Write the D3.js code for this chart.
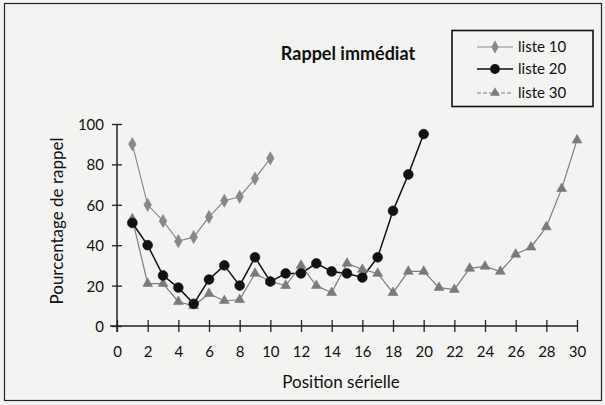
<!DOCTYPE html>
<html><head><meta charset="utf-8">
<script src="https://cdn.jsdelivr.net/npm/d3@7"></script>
<style>
html,body{margin:0;padding:0;background:#f3f3f1;}
svg{display:block;}
text{font-family:Lato,"Open Sans",sans-serif;fill:#111;}
</style></head><body>
<svg id="c" width="605" height="405"></svg>
<script>
const title = "Rappel immédiat";
const xLabel = "Position sérielle";
const yLabel = "Pourcentage de rappel";
const xTicks = [0,2,4,6,8,10,12,14,16,18,20,22,24,26,28,30];
const yTicks = [0,20,40,60,80,100];
const seriesNames = ["liste 10","liste 20","liste 30"];
const liste10 = [90,60,52,42,44,54,62,64,73,83];
const liste20 = [51,40,25,19,11,23,30,20,34,22,26,26,31,27,26,24,34,57,75,95];
const liste30 = [53,21,21,12,10,16,12.5,13,26,22,20,30,20,16.5,31,28,26,16.5,27,27,19,18,28.5,29.5,27,35.5,39,49,68,92];

const svg = d3.select("#c");
const x = d3.scaleLinear().domain([0,30]).range([117,577]);
const y = d3.scaleLinear().domain([0,100]).range([326,124]);

// frame
svg.append("rect").attr("x",4.5).attr("y",3.5).attr("width",597).attr("height",397)
  .attr("fill","none").attr("stroke","#222").attr("stroke-width",1.2);

// axes
const gx = svg.append("g").attr("transform",`translate(0,${y(0)})`)
  .call(d3.axisBottom(x).tickValues(xTicks).tickSize(0).tickPadding(0));
gx.select(".domain").remove();
gx.selectAll(".tick line").attr("y1",-6).attr("y2",6).attr("stroke","#222").attr("stroke-width",1.3);
gx.selectAll(".tick text").attr("y",31).attr("dy",0).attr("font-size",15);
svg.append("line").attr("x1",x(0)-7).attr("x2",x(30)).attr("y1",y(0)).attr("y2",y(0))
  .attr("stroke","#222").attr("stroke-width",1.5);

const gy = svg.append("g").attr("transform",`translate(${x(0)},0)`)
  .call(d3.axisLeft(y).tickValues(yTicks).tickSize(0).tickPadding(0));
gy.select(".domain").remove();
gy.selectAll(".tick line").attr("x1",-5).attr("x2",5).attr("stroke","#222").attr("stroke-width",1.3);
gy.selectAll(".tick text").attr("x",-13).attr("dy","0.36em").attr("font-size",15);
svg.append("line").attr("x1",x(0)).attr("x2",x(0)).attr("y1",y(100)).attr("y2",y(0)+6)
  .attr("stroke","#222").attr("stroke-width",1.5);

svg.selectAll(".tick text").attr("fill","#111").attr("font-family","Lato,sans-serif");

// labels
svg.append("text").attr("x",x(15)-6).attr("y",388).attr("text-anchor","middle")
  .attr("font-size",17).text(xLabel);
svg.append("text").attr("transform",`translate(63,${(y(0)+y(100))/2-4}) rotate(-90)`)
  .attr("text-anchor","middle").attr("font-size",17).text(yLabel);
svg.append("text").attr("x",348).attr("y",60).attr("text-anchor","middle")
  .attr("font-size",18).attr("font-weight","bold").text(title);

// series
const styles = [
  {data:liste10, line:"#8a8a8a", fill:"#888", w:1.2, shape:d3.symbolDiamond, size:50},
  {data:liste20, line:"#111", fill:"#111", w:1.5, shape:d3.symbolCircle, size:75},
  {data:liste30, line:"#7d7d7d", fill:"#7a7a7a", w:1.2, shape:d3.symbolTriangle, size:42}
];
const line = d3.line().x((d,i)=>x(i+1)).y(d=>y(d));
styles.forEach(s=>{
  svg.append("path").datum(s.data).attr("d",line).attr("fill","none")
    .attr("stroke",s.line).attr("stroke-width",s.w);
});
styles.slice().reverse().forEach(s=>{
  svg.append("g").selectAll("path").data(s.data).join("path")
    .attr("transform",(d,i)=>`translate(${x(i+1)},${y(d)})`)
    .attr("d",d3.symbol().type(s.shape).size(s.size))
    .attr("fill",s.fill).attr("stroke",s.fill).attr("stroke-width",0.6);
});

// legend
svg.append("rect").attr("x",452).attr("y",30.5).attr("width",141).attr("height",76)
  .attr("fill","none").attr("stroke","#111").attr("stroke-width",1.6);
const ly = [47,69,93];
styles.forEach((s,i)=>{
  svg.append("line").attr("x1",477).attr("x2",513).attr("y1",ly[i]).attr("y2",ly[i])
    .attr("stroke",s.line).attr("stroke-width",s.w).attr("stroke-dasharray", i===2?"4,2":null);
  svg.append("path").attr("transform",`translate(495,${ly[i]})`)
    .attr("d",d3.symbol().type(s.shape).size(s.size)).attr("fill",s.fill);
  svg.append("text").attr("x",518).attr("y",ly[i]).attr("dy","0.36em")
    .attr("font-size",15).text(seriesNames[i]);
});
</script>
</body></html>
